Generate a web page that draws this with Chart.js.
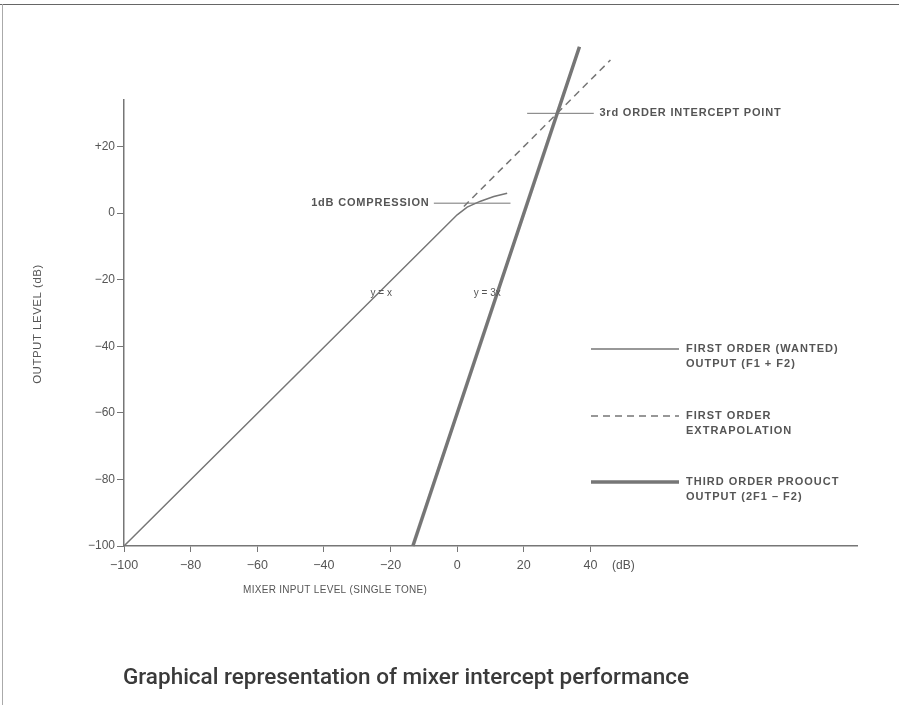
<!DOCTYPE html>
<html>
<head>
<meta charset="utf-8">
<script src="https://cdn.jsdelivr.net/npm/chart.js@4.4.1/dist/chart.umd.min.js"></script>
<style>
  html, body { margin: 0; padding: 0; background: #fff; }
  #wrap { position: relative; width: 899px; height: 715px; }
  #wrap::before { content: ""; position: absolute; left: 0; top: 4px; right: 0; height: 1px; background: #666; }
  #wrap::after { content: ""; position: absolute; left: 2px; top: 4px; bottom: 10px; width: 1px; background: #aaa; }
</style>
</head>
<body>
<div id="wrap"><canvas id="chart" width="899" height="715"></canvas></div>
<script>
const xTicks = [-100, -80, -60, -40, -20, 0, 20, 40];
const yTicks = [-100, -80, -60, -40, -20, 0, 20];

// first order output, with compression near the top
const firstX = [-100, 0, 3, 7, 11, 15];
const firstY = [-100, -0.5, 1.8, 3.6, 5, 6];

// first order extrapolation (dashed)
const extraX = [2, 46];
const extraY = [2, 46];

// third order product, slope 3
const thirdX = [-13.3, 36.7];
const thirdY = [-100, 50];

// marker lines
const compX = [-7, 16];
const compY = [3, 3];
const interX = [21, 41];
const interY = [30, 30];

const grey = '#767676';
const textGrey = '#555';
const sans = '"Liberation Sans", Arial, sans-serif';

function pts(xs, ys) {
  return xs.map((x, i) => ({ x: x, y: ys[i] }));
}

function line(data, width, dash) {
  return {
    data: data,
    borderColor: grey,
    borderWidth: width,
    borderDash: dash || [],
    pointRadius: 0,
    tension: 0,
    fill: false,
    clip: false
  };
}

const labelsPlugin = {
  id: 'labels',
  afterDraw(chart) {
    const ctx = chart.ctx;
    const xs = chart.scales.x;
    const ys = chart.scales.y;
    const area = chart.chartArea;
    ctx.save();
    ctx.fillStyle = textGrey;
    ctx.textBaseline = 'middle';

    ctx.font = 'bold 11px ' + sans;
    ctx.letterSpacing = '0.8px';
    ctx.textAlign = 'right';
    ctx.fillText('1dB COMPRESSION', xs.getPixelForValue(-8.3), ys.getPixelForValue(3));
    ctx.textAlign = 'left';
    ctx.fillText('3rd ORDER INTERCEPT POINT', xs.getPixelForValue(42.7), ys.getPixelForValue(30));

    ctx.letterSpacing = '0px';
    ctx.font = '10px ' + sans;
    ctx.fillText('y = x', xs.getPixelForValue(-26), ys.getPixelForValue(-24));
    ctx.fillText('y = 3x', xs.getPixelForValue(5), ys.getPixelForValue(-24));

    // legend
    const lx = area.left + 467;
    const rows = [
      { y: area.top + 249, w: 1.5, dash: [], t: ['FIRST ORDER (WANTED)', 'OUTPUT (F1 + F2)'] },
      { y: area.top + 316, w: 1.5, dash: [7, 5], t: ['FIRST ORDER', 'EXTRAPOLATION'] },
      { y: area.top + 382, w: 3.5, dash: [], t: ['THIRD ORDER PROOUCT', 'OUTPUT (2F1 \u2013 F2)'] }
    ];
    ctx.font = 'bold 11px ' + sans;
    ctx.letterSpacing = '1px';
    rows.forEach(r => {
      ctx.beginPath();
      ctx.strokeStyle = grey;
      ctx.lineWidth = r.w;
      ctx.setLineDash(r.dash);
      ctx.moveTo(lx, r.y);
      ctx.lineTo(lx + 88, r.y);
      ctx.stroke();
      ctx.setLineDash([]);
      ctx.fillText(r.t[0], lx + 95, r.y);
      ctx.fillText(r.t[1], lx + 95, r.y + 15);
    });

    // axis titles
    ctx.font = '12px ' + sans;
    ctx.letterSpacing = '0px';
    ctx.textAlign = 'left';
    ctx.fillText('(dB)', 612, area.bottom + 20);
    ctx.font = '10px ' + sans;
    ctx.letterSpacing = '0.3px';
    ctx.fillText('MIXER INPUT LEVEL (SINGLE TONE)', 243, 590);
    ctx.save();
    ctx.translate(38, 324);
    ctx.rotate(-Math.PI / 2);
    ctx.textAlign = 'center';
    ctx.font = '11.5px ' + sans;
    ctx.letterSpacing = '0.5px';
    ctx.fillText('OUTPUT LEVEL (dB)', 0, 0);
    ctx.restore();

    // caption
    ctx.letterSpacing = '0px';
    ctx.fillStyle = '#3a3a3a';
    ctx.font = '500 22.5px Roboto, "Liberation Sans", sans-serif';
    ctx.textAlign = 'left';
    ctx.fillText('Graphical representation of mixer intercept performance', 123, 678, 566);
    ctx.restore();
  }
};

new Chart(document.getElementById('chart'), {
  type: 'line',
  data: {
    datasets: [
      line(pts(firstX, firstY), 1.5),
      line(pts(extraX, extraY), 1.5, [7, 5]),
      line(pts(thirdX, thirdY), 3.5),
      line(pts(compX, compY), 1),
      line(pts(interX, interY), 1)
    ]
  },
  options: {
    responsive: false,
    animation: false,
    layout: { padding: { top: 100, right: 42, left: 0, bottom: 0 } },
    plugins: { legend: { display: false }, tooltip: { enabled: false } },
    scales: {
      x: {
        type: 'linear',
        min: -100,
        max: 120,
        afterBuildTicks: s => { s.ticks = xTicks.map(v => ({ value: v })); },
        afterFit: s => { s.height = 169; },
        grid: { drawOnChartArea: false, tickLength: 6, color: grey, tickWidth: 1 },
        border: { color: grey, width: 1.5 },
        ticks: {
          color: textGrey,
          font: { family: sans, size: 12.5 },
          padding: 6,
          maxRotation: 0,
          callback: v => v < 0 ? '\u2212' + Math.abs(v) : String(v)
        }
      },
      y: {
        type: 'linear',
        min: -100,
        max: 34,
        afterBuildTicks: s => { s.ticks = yTicks.map(v => ({ value: v })); },
        afterFit: s => { s.width = 124; },
        grid: { drawOnChartArea: false, tickLength: 7, color: grey, tickWidth: 1 },
        border: { color: grey, width: 1.5 },
        ticks: {
          color: textGrey,
          font: { family: sans, size: 12 },
          padding: 2,
          callback: v => v < 0 ? '\u2212' + Math.abs(v) : (v > 0 ? '+' + v : '0')
        }
      }
    }
  },
  plugins: [labelsPlugin]
});
</script>
</body>
</html>
